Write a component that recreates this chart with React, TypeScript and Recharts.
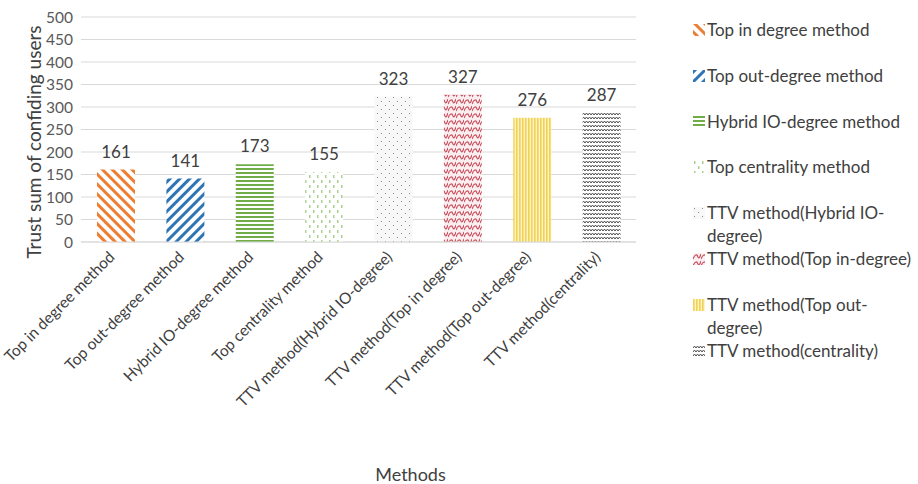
import { Bar, BarChart, CartesianGrid, Cell, LabelList, XAxis, YAxis } from "recharts";

const methods = [
  "Top in degree method",
  "Top out-degree method",
  "Hybrid IO-degree method",
  "Top centrality method",
  "TTV method(Hybrid IO-degree)",
  "TTV method(Top in degree)",
  "TTV method(Top out-degree)",
  "TTV method(centrality)",
];

// legend text, with the line breaks the reference shows
const legendNames = [
  "Top in degree method",
  "Top out-degree method",
  "Hybrid IO-degree method",
  "Top centrality method",
  "TTV method(Hybrid IO-\ndegree)",
  "TTV method(Top in-degree)",
  "TTV method(Top out-\ndegree)",
  "TTV method(centrality)",
];

const trustSums = [161, 141, 173, 155, 323, 327, 276, 287];

const yTicks = [0, 50, 100, 150, 200, 250, 300, 350, 400, 450, 500];

const patternIds = ["p0", "p1", "p2", "p3", "p4", "p5", "p6", "p7"];

const data = methods.map((m, i) => ({ method: m, value: trustSums[i] }));

const FONT = "Lato, sans-serif";

function Patterns() {
  return (
    <defs>
      <pattern id="p0" width="7" height="7" patternUnits="userSpaceOnUse" patternTransform="rotate(-45)">
        <rect width="7" height="7" fill="#fff" />
        <rect width="3" height="7" fill="#ED7D31" />
      </pattern>
      <pattern id="p1" width="7" height="7" patternUnits="userSpaceOnUse" patternTransform="rotate(45)">
        <rect width="7" height="7" fill="#fff" />
        <rect width="3" height="7" fill="#2E75B6" />
      </pattern>
      <pattern id="p2" width="6" height="4" patternUnits="userSpaceOnUse">
        <rect width="6" height="4" fill="#fff" />
        <rect width="6" height="2" fill="#70AD47" />
      </pattern>
      <pattern id="p3" width="8" height="10" patternUnits="userSpaceOnUse">
        <rect width="8" height="10" fill="#fff" />
        <rect x="1" y="0" width="1.5" height="3" fill="#A9D18E" />
        <rect x="5" y="5" width="1.5" height="3" fill="#A9D18E" />
      </pattern>
      <pattern id="p4" width="8" height="8" patternUnits="userSpaceOnUse">
        <rect width="8" height="8" fill="#f8f8f8" />
        <rect x="1" y="1" width="1" height="1" fill="#8a8a8a" />
        <rect x="5" y="5" width="1" height="1" fill="#8a8a8a" />
      </pattern>
      <pattern id="p5" width="8" height="7" patternUnits="userSpaceOnUse">
        <rect width="8" height="7" fill="#fbeef0" />
        <path d="M0 6 C2 1 4 1 5 4 C6 6 7 4 8 1" stroke="#C9505E" strokeWidth="1.2" fill="none" />
      </pattern>
      <pattern id="p6" width="3" height="6" patternUnits="userSpaceOnUse">
        <rect width="3" height="6" fill="#FFF4BF" />
        <rect width="1.6" height="6" fill="#EFD25A" />
      </pattern>
      <pattern id="p7" width="6" height="4" patternUnits="userSpaceOnUse">
        <rect width="6" height="4" fill="#fff" />
        <path d="M0 3 L1.5 1 L3 3 L4.5 1 L6 3" stroke="#505050" strokeWidth="1" fill="none" />
      </pattern>
    </defs>
  );
}

function XTick(props: any) {
  const { x, y, payload } = props;
  return (
    <text
      x={x}
      y={y + 8}
      transform={`rotate(-45 ${x} ${y + 8})`}
      textAnchor="end"
      fontSize={15.5}
      fill="#404040"
      fontFamily={FONT}
    >
      {payload.value}
    </text>
  );
}

function YTitle(props: any) {
  const cx = 33;
  const cy = 142;
  return (
    <text
      x={cx}
      y={cy}
      transform={`rotate(-90 ${cx} ${cy})`}
      textAnchor="middle"
      dominantBaseline="central"
      fontSize={19}
      fill="#404040"
      fontFamily={FONT}
    >
      Trust sum of confiding  users
    </text>
  );
}

const legendTops = [18, 64, 110, 155, 201, 247, 293, 339];

export default function App() {
  return (
    <div style={{ position: "absolute", left: 0, top: 0, width: 918, height: 484, background: "#fff", fontFamily: FONT }}>
      <BarChart
        width={918}
        height={484}
        data={data}
        margin={{ top: 17, right: 282, bottom: 0, left: 0 }}
        barSize={38}
      >
        <Patterns />
        <CartesianGrid vertical={false} stroke="#d9d9d9" />
        <XAxis
          dataKey="method"
          interval={0}
          tick={<XTick />}
          tickLine={false}
          axisLine={{ stroke: "#d9d9d9" }}
          height={242}
          label={{
            value: "Methods",
            position: "insideBottom",
            offset: 3,
            dx: 52,
            fontSize: 18,
            fill: "#404040",
            fontFamily: FONT,
          }}
        />
        <YAxis
          domain={[0, 500]}
          ticks={yTicks}
          interval={0}
          width={81}
          tickLine={false}
          axisLine={false}
          tick={{ fontSize: 15.5, fill: "#595959", fontFamily: FONT }}
          label={<YTitle />}
        />
        <Bar dataKey="value" isAnimationActive={false}>
          {data.map((d, i) => (
            <Cell key={d.method} fill={`url(#${patternIds[i]})`} />
          ))}
          <LabelList dataKey="value" position="top" offset={12} fontSize={17} fill="#404040" fontFamily={FONT} />
        </Bar>
      </BarChart>
      {legendNames.map((name, i) => (
        <div
          key={name}
          style={{
            position: "absolute",
            left: 693,
            top: legendTops[i],
            width: 225,
            display: "flex",
            alignItems: "flex-start",
            fontSize: 17,
            lineHeight: "23px",
            color: "#404040",
          }}
        >
          <svg width={12} height={12} style={{ marginTop: 6, marginRight: 2, flexShrink: 0 }}>
            <Patterns />
            <rect width={12} height={12} fill={`url(#${patternIds[i]})`} />
          </svg>
          <span style={{ whiteSpace: "pre" }}>{name}</span>
        </div>
      ))}
    </div>
  );
}
